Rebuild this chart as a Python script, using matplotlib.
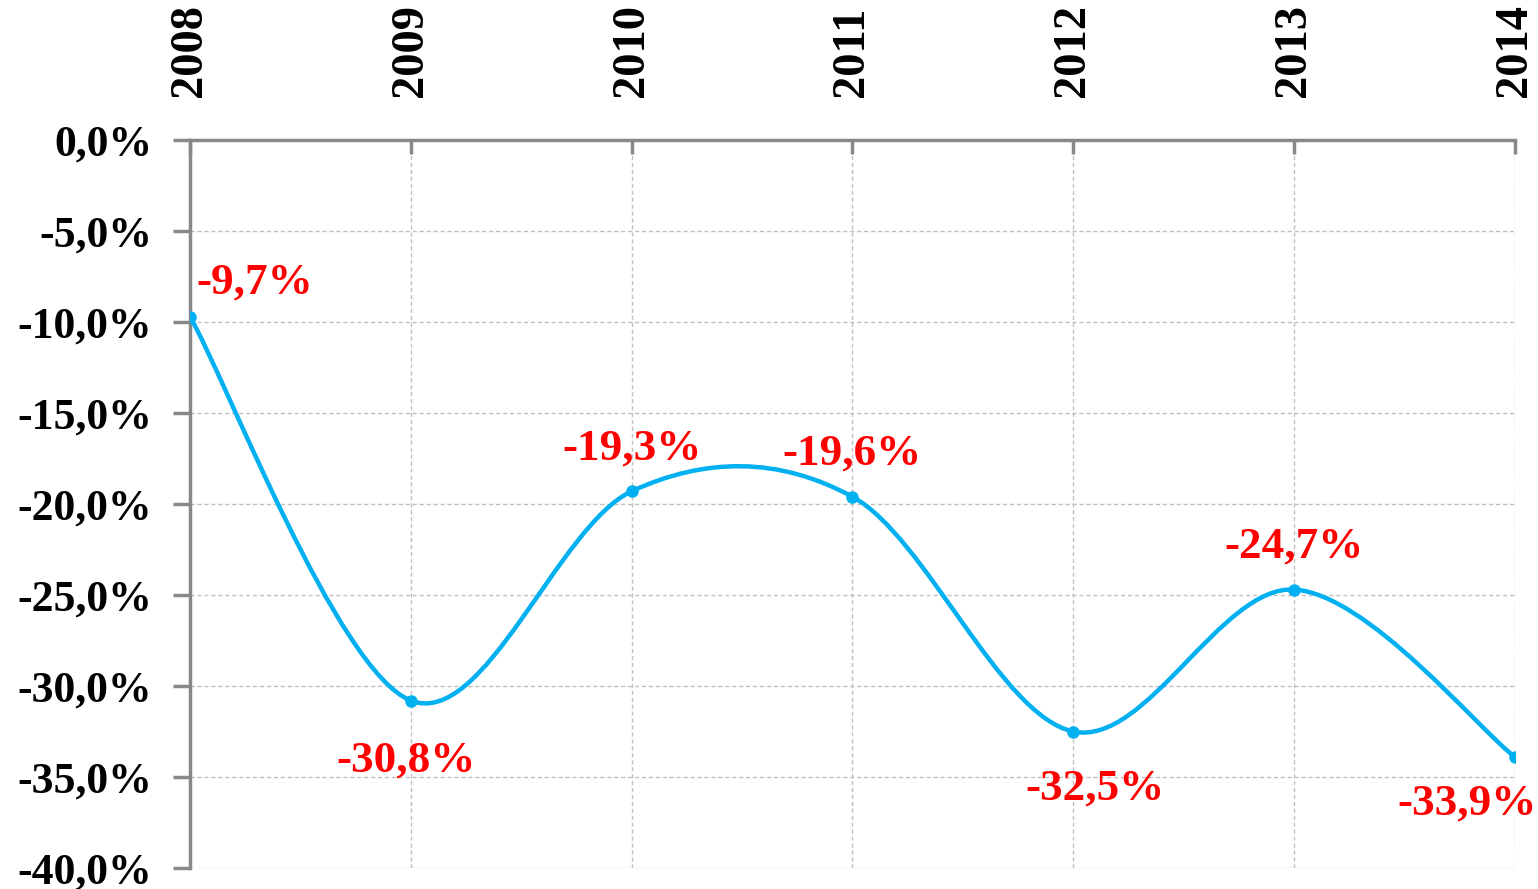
import numpy as np
import matplotlib.pyplot as plt
from matplotlib.path import Path
from matplotlib.patches import PathPatch
from matplotlib.ticker import FuncFormatter

years = ["2008", "2009", "2010", "2011", "2012", "2013", "2014"]
values = [-9.7, -30.8, -19.3, -19.6, -32.5, -24.7, -33.9]
# label offsets in pixels (dx, dy) relative to point
label_offsets = [(65, 34), (-5, -60), (0, 43), (0, 43), (22, -57), (0, 43), (-48, -47)]

plt.rcParams['font.family'] = ['Liberation Serif', 'DejaVu Serif']

fig = plt.figure(figsize=(15.38, 8.89), dpi=100)
ax = fig.add_axes([0.1235, 0.0236, 0.985 - 0.1235, 0.8425 - 0.0236])

x = np.arange(len(years))
y = np.array(values)
blue = '#00B0F0'

# Excel-style smoothed line (Catmull-Rom as cubic Bezier)
verts = [(x[0], y[0])]
codes = [Path.MOVETO]
n = len(x)
for i in range(n - 1):
    p0 = (x[i - 1], y[i - 1]) if i > 0 else (x[i], y[i])
    p1 = (x[i], y[i])
    p2 = (x[i + 1], y[i + 1])
    p3 = (x[i + 2], y[i + 2]) if i + 2 < n else (x[i + 1], y[i + 1])
    c1 = (p1[0] + (p2[0] - p0[0]) / 6, p1[1] + (p2[1] - p0[1]) / 6)
    c2 = (p2[0] - (p3[0] - p1[0]) / 6, p2[1] - (p3[1] - p1[1]) / 6)
    verts += [c1, c2, p2]
    codes += [Path.CURVE4] * 3
ax.add_patch(PathPatch(Path(verts, codes), facecolor='none', edgecolor=blue,
                       lw=3.2, capstyle='round', zorder=3))
ax.plot(x, y, 'o', color=blue, markersize=8, zorder=4)

for xi, yi, (dx, dy) in zip(x, y, label_offsets):
    ax.annotate(f"{yi:.1f}%".replace('.', ','), (xi, yi),
                xytext=(dx * 0.72, dy * 0.72), textcoords='offset points',
                ha='center', va='center', color='red', fontsize=32.5,
                fontweight='bold', annotation_clip=False, zorder=5)

ax.set_xlim(0, n - 1)
ax.set_ylim(-40, 0)
ax.set_xticks(x)
ax.set_xticklabels(years, rotation=90, fontsize=33.5, fontweight='bold')
ax.xaxis.tick_top()
ax.set_yticks(np.arange(-40, 1, 5))
ax.yaxis.set_major_formatter(FuncFormatter(lambda v, p: f"{v:.1f}%".replace('.', ',')))
for lab in ax.get_yticklabels():
    lab.set_fontweight('bold')
ax.tick_params(axis='y', labelsize=31.5, length=12, width=2.5, color='#888888', pad=15)
ax.tick_params(axis='x', direction='in', length=10, width=2.5, color='#888888', pad=31)

ax.grid(True, color='#C0C0C0', linestyle=(0, (3, 2)), linewidth=1)
for side in ['right', 'bottom']:
    ax.spines[side].set_visible(False)
for side in ['left', 'top']:
    ax.spines[side].set_color('#888888')
    ax.spines[side].set_linewidth(2.5)

fig.savefig('out.png', dpi=100)
